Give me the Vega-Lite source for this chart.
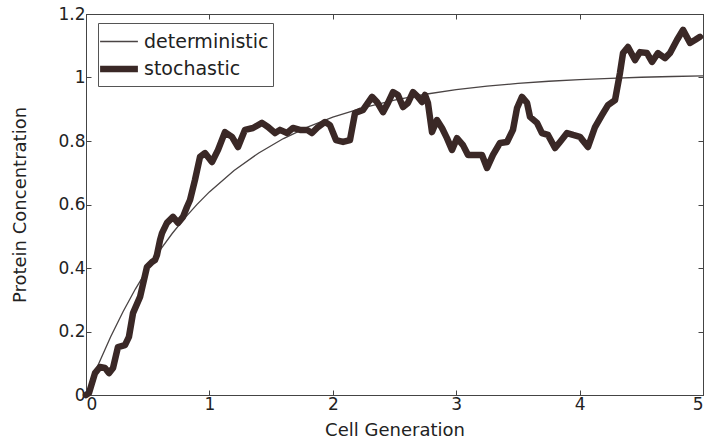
{
  "$schema": "https://vega.github.io/schema/vega-lite/v6.json",
  "width": 617,
  "height": 381,
  "autosize": {"type": "none"},
  "padding": {"left": 86, "top": 14, "right": 8, "bottom": 51},
  "background": "white",
  "datasets": {
    "det": [
      {"series":"deterministic","t":0,"y":0},{"series":"deterministic","t":0.05,"y":0.0494},{"series":"deterministic","t":0.1,"y":0.0963},{"series":"deterministic","t":0.2,"y":0.1835},{"series":"deterministic","t":0.3,"y":0.2623},{"series":"deterministic","t":0.4,"y":0.3337},{"series":"deterministic","t":0.5,"y":0.3982},{"series":"deterministic","t":0.6,"y":0.4566},{"series":"deterministic","t":0.7,"y":0.5094},{"series":"deterministic","t":0.8,"y":0.5573},{"series":"deterministic","t":0.9,"y":0.6005},{"series":"deterministic","t":1.0,"y":0.6397},{"series":"deterministic","t":1.2,"y":0.7072},{"series":"deterministic","t":1.4,"y":0.7624},{"series":"deterministic","t":1.6,"y":0.8077},{"series":"deterministic","t":1.8,"y":0.8447},{"series":"deterministic","t":2.0,"y":0.8751},{"series":"deterministic","t":2.25,"y":0.9053},{"series":"deterministic","t":2.5,"y":0.9289},{"series":"deterministic","t":2.75,"y":0.9473},{"series":"deterministic","t":3.0,"y":0.9616},{"series":"deterministic","t":3.25,"y":0.9727},{"series":"deterministic","t":3.5,"y":0.9814},{"series":"deterministic","t":3.75,"y":0.9882},{"series":"deterministic","t":4.0,"y":0.9935},{"series":"deterministic","t":4.25,"y":0.9975},{"series":"deterministic","t":4.5,"y":1.0008},{"series":"deterministic","t":4.75,"y":1.0032},{"series":"deterministic","t":5.0,"y":1.0052}
    ],
    "sto": [
      {"series":"stochastic","t":0,"y":0},{"series":"stochastic","t":0.024,"y":0.006},{"series":"stochastic","t":0.073,"y":0.069},{"series":"stochastic","t":0.113,"y":0.088},{"series":"stochastic","t":0.154,"y":0.085},{"series":"stochastic","t":0.186,"y":0.069},{"series":"stochastic","t":0.219,"y":0.085},{"series":"stochastic","t":0.259,"y":0.151},{"series":"stochastic","t":0.316,"y":0.157},{"series":"stochastic","t":0.348,"y":0.183},{"series":"stochastic","t":0.381,"y":0.258},{"series":"stochastic","t":0.438,"y":0.309},{"series":"stochastic","t":0.494,"y":0.403},{"series":"stochastic","t":0.535,"y":0.419},{"series":"stochastic","t":0.559,"y":0.425},{"series":"stochastic","t":0.575,"y":0.441},{"series":"stochastic","t":0.6,"y":0.488},{"series":"stochastic","t":0.616,"y":0.51},{"series":"stochastic","t":0.656,"y":0.542},{"series":"stochastic","t":0.705,"y":0.561},{"series":"stochastic","t":0.746,"y":0.542},{"series":"stochastic","t":0.786,"y":0.561},{"series":"stochastic","t":0.818,"y":0.592},{"series":"stochastic","t":0.843,"y":0.614},{"series":"stochastic","t":0.883,"y":0.677},{"series":"stochastic","t":0.924,"y":0.75},{"series":"stochastic","t":0.964,"y":0.762},{"series":"stochastic","t":1.021,"y":0.734},{"series":"stochastic","t":1.07,"y":0.772},{"series":"stochastic","t":1.126,"y":0.828},{"series":"stochastic","t":1.183,"y":0.813},{"series":"stochastic","t":1.232,"y":0.781},{"series":"stochastic","t":1.288,"y":0.835},{"series":"stochastic","t":1.353,"y":0.841},{"series":"stochastic","t":1.426,"y":0.857},{"series":"stochastic","t":1.475,"y":0.844},{"series":"stochastic","t":1.532,"y":0.825},{"series":"stochastic","t":1.572,"y":0.835},{"series":"stochastic","t":1.629,"y":0.825},{"series":"stochastic","t":1.677,"y":0.841},{"series":"stochastic","t":1.734,"y":0.835},{"series":"stochastic","t":1.791,"y":0.835},{"series":"stochastic","t":1.831,"y":0.825},{"series":"stochastic","t":1.88,"y":0.844},{"series":"stochastic","t":1.937,"y":0.86},{"series":"stochastic","t":1.977,"y":0.85},{"series":"stochastic","t":2.026,"y":0.803},{"series":"stochastic","t":2.083,"y":0.797},{"series":"stochastic","t":2.139,"y":0.803},{"series":"stochastic","t":2.18,"y":0.888},{"series":"stochastic","t":2.245,"y":0.898},{"series":"stochastic","t":2.318,"y":0.939},{"series":"stochastic","t":2.358,"y":0.923},{"series":"stochastic","t":2.407,"y":0.891},{"series":"stochastic","t":2.447,"y":0.92},{"series":"stochastic","t":2.488,"y":0.954},{"series":"stochastic","t":2.528,"y":0.945},{"series":"stochastic","t":2.569,"y":0.907},{"series":"stochastic","t":2.609,"y":0.92},{"series":"stochastic","t":2.65,"y":0.954},{"series":"stochastic","t":2.69,"y":0.939},{"series":"stochastic","t":2.723,"y":0.923},{"series":"stochastic","t":2.747,"y":0.945},{"series":"stochastic","t":2.771,"y":0.92},{"series":"stochastic","t":2.804,"y":0.828},{"series":"stochastic","t":2.844,"y":0.866},{"series":"stochastic","t":2.885,"y":0.841},{"series":"stochastic","t":2.925,"y":0.809},{"series":"stochastic","t":2.966,"y":0.772},{"series":"stochastic","t":3.006,"y":0.809},{"series":"stochastic","t":3.055,"y":0.787},{"series":"stochastic","t":3.096,"y":0.756},{"series":"stochastic","t":3.152,"y":0.756},{"series":"stochastic","t":3.209,"y":0.756},{"series":"stochastic","t":3.25,"y":0.715},{"series":"stochastic","t":3.298,"y":0.756},{"series":"stochastic","t":3.355,"y":0.794},{"series":"stochastic","t":3.412,"y":0.797},{"series":"stochastic","t":3.46,"y":0.835},{"series":"stochastic","t":3.493,"y":0.904},{"series":"stochastic","t":3.533,"y":0.939},{"series":"stochastic","t":3.574,"y":0.92},{"series":"stochastic","t":3.598,"y":0.876},{"series":"stochastic","t":3.655,"y":0.857},{"series":"stochastic","t":3.695,"y":0.825},{"series":"stochastic","t":3.744,"y":0.819},{"series":"stochastic","t":3.801,"y":0.778},{"series":"stochastic","t":3.841,"y":0.797},{"series":"stochastic","t":3.898,"y":0.825},{"series":"stochastic","t":3.947,"y":0.819},{"series":"stochastic","t":4.003,"y":0.813},{"series":"stochastic","t":4.068,"y":0.781},{"series":"stochastic","t":4.125,"y":0.844},{"series":"stochastic","t":4.182,"y":0.882},{"series":"stochastic","t":4.23,"y":0.913},{"series":"stochastic","t":4.287,"y":0.929},{"series":"stochastic","t":4.327,"y":1.014},{"series":"stochastic","t":4.352,"y":1.077},{"series":"stochastic","t":4.392,"y":1.096},{"series":"stochastic","t":4.449,"y":1.055},{"series":"stochastic","t":4.489,"y":1.08},{"series":"stochastic","t":4.546,"y":1.077},{"series":"stochastic","t":4.587,"y":1.049},{"series":"stochastic","t":4.635,"y":1.077},{"series":"stochastic","t":4.692,"y":1.061},{"series":"stochastic","t":4.733,"y":1.077},{"series":"stochastic","t":4.789,"y":1.118},{"series":"stochastic","t":4.838,"y":1.15},{"series":"stochastic","t":4.895,"y":1.109},{"series":"stochastic","t":4.935,"y":1.118},{"series":"stochastic","t":4.976,"y":1.128}
    ]
  },
  "layer": [
    {
      "data": {"name": "det"},
      "mark": {"type": "line", "strokeCap": "butt"},
      "encoding": {
        "x": {"field": "t", "type": "quantitative", "scale": {"domain": [0, 5], "nice": false}, "axis": {"orient": "bottom", "values": [0, 1, 2, 3, 4, 5], "title": "Cell Generation", "titlePadding": 9}},
        "y": {"field": "y", "type": "quantitative", "scale": {"domain": [0, 1.2], "nice": false}, "axis": {"orient": "left", "values": [0, 0.2, 0.4, 0.6, 0.8, 1, 1.2], "format": "~g", "title": "Protein Concentration", "titlePadding": 28}},
        "color": {"field": "series", "type": "nominal", "scale": {"domain": ["deterministic", "stochastic"], "range": ["#4a4444", "#3a2826"]}, "legend": {"orient": "none", "legendX": 12, "legendY": 9, "title": null, "strokeColor": "#555", "fillColor": "white", "padding": 4, "symbolType": "M-1.4,0H1.4", "symbolSize": 729, "labelFont": "DejaVu Sans", "labelFontSize": 19, "labelColor": "#222", "labelOffset": 8, "rowPadding": -2}},
        "strokeWidth": {"field": "series", "type": "nominal", "scale": {"domain": ["deterministic", "stochastic"], "range": [1.3, 6.5]}, "legend": {"orient": "none", "legendX": 12, "legendY": 9, "title": null, "strokeColor": "#555", "fillColor": "white", "padding": 4, "symbolType": "M-1.4,0H1.4", "symbolSize": 729, "labelFont": "DejaVu Sans", "labelFontSize": 19, "labelColor": "#222", "labelOffset": 8, "rowPadding": -2}}
      }
    },
    {
      "data": {"name": "sto"},
      "mark": {"type": "line", "strokeJoin": "round", "strokeCap": "round"},
      "encoding": {
        "x": {"field": "t", "type": "quantitative", "scale": {"domain": [0, 5], "nice": false}, "axis": {"orient": "top", "values": [0, 1, 2, 3, 4, 5], "labels": false, "title": null}},
        "y": {"field": "y", "type": "quantitative", "scale": {"domain": [0, 1.2], "nice": false}, "axis": {"orient": "right", "values": [0, 0.2, 0.4, 0.6, 0.8, 1, 1.2], "labels": false, "title": null}},
        "color": {"field": "series", "type": "nominal"},
        "strokeWidth": {"field": "series", "type": "nominal"}
      }
    }
  ],
  "resolve": {"axis": {"x": "independent", "y": "independent"}},
  "config": {
    "view": {"stroke": "#444"},
    "axis": {"grid": false, "domainColor": "#444", "tickColor": "#444", "tickSize": -5, "labelPadding": 6, "labelFont": "DejaVu Sans", "labelFontSize": 17, "labelColor": "#222", "titleFont": "DejaVu Sans", "titleFontSize": 18, "titleFontWeight": "normal", "titleColor": "#222"}
  }
}
